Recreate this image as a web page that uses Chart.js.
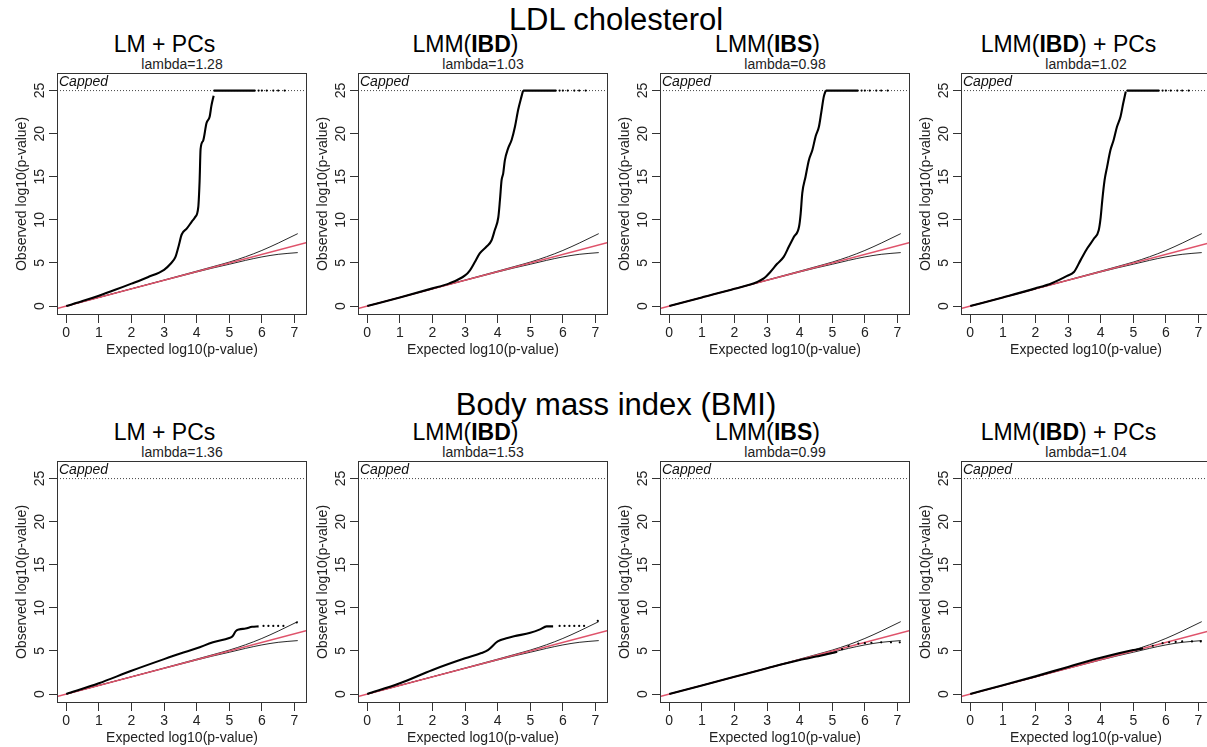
<!DOCTYPE html>
<html><head><meta charset="utf-8">
<script src="https://cdn.jsdelivr.net/npm/chart.js@4.4.1/dist/chart.umd.min.js"></script>
<style>
html,body{margin:0;padding:0;background:#fff;}
#wrap{position:relative;width:1207px;height:747px;overflow:hidden;background:#fff;font-family:'Liberation Sans',Arial,Helvetica,sans-serif;color:#000;}
.t{position:absolute;white-space:nowrap;text-align:center;line-height:1;}
canvas{position:absolute;}
</style></head><body><div id="wrap"></div>
<script>
// ---------- axes / ticks ----------
const X_MIN = -0.284, X_MAX = 7.384;
const Y_MIN = -1.04, Y_MAX = 27.04;
const CAP = 25;
const xTicks = [0, 1, 2, 3, 4, 5, 6, 7];
const yTicks = [0, 5, 10, 15, 20, 25];

// ---------- labels ----------
const groupTitles = ['LDL cholesterol', 'Body mass index (BMI)'];
const methodTitles = [['LM + PCs'], ['LMM(', 'IBD', ')'], ['LMM(', 'IBS', ')'], ['LMM(', 'IBD', ') + PCs']];
const ldlLambdas = ['1.28', '1.03', '0.98', '1.02'];
const bmiLambdas = ['1.36', '1.53', '0.99', '1.04'];

// ---------- confidence band (shared) ----------
const ciX      = [0, 1, 2, 3, 4, 4.5, 5, 5.5, 6, 6.5, 7.1];
const ciUpperY = [0, 1.0, 2.0, 3.02, 4.05, 4.57, 5.1, 5.72, 6.45, 7.3, 8.4];
const ciLowerY = [0, 1.0, 2.0, 2.98, 3.95, 4.42, 4.85, 5.3, 5.7, 6.0, 6.2];

// ---------- LDL cholesterol ----------
const ldlLmPcsX = [0, 0.5, 1, 1.5, 2, 2.5, 3, 3.2, 3.35, 3.45, 3.54, 3.7, 3.85, 3.95, 4.05, 4.09, 4.12, 4.2, 4.3, 4.4, 4.45, 4.52];
const ldlLmPcsY = [0, 0.58, 1.2, 1.88, 2.6, 3.35, 4.2, 4.9, 5.7, 7.0, 8.3, 9.0, 9.8, 10.3, 11.5, 14.5, 18.2, 19.2, 21.2, 22.0, 23.2, 24.4];
const ldlIbdX = [0, 1, 2, 2.5, 3, 3.15, 3.3, 3.45, 3.66, 3.81, 3.91, 4.02, 4.07, 4.12, 4.17, 4.22, 4.32, 4.43, 4.53, 4.63, 4.73, 4.78];
const ldlIbdY = [0, 1.0, 2.05, 2.6, 3.55, 4.15, 5.1, 6.1, 6.9, 7.6, 8.8, 10.3, 12.3, 14.6, 15.4, 16.9, 18.3, 19.3, 20.8, 22.8, 24.3, 25];
const ldlIbsX = [0, 1, 2, 2.7, 2.9, 3.1, 3.31, 3.51, 3.67, 3.82, 3.98, 4.03, 4.08, 4.18, 4.28, 4.39, 4.49, 4.59, 4.66, 4.74, 4.8];
const ldlIbsY = [0, 1.0, 2.0, 2.8, 3.2, 3.95, 4.9, 5.7, 6.9, 8.0, 9.2, 10.7, 13.1, 15.0, 16.9, 18.1, 19.7, 20.8, 22.4, 24.3, 25];
const ldlIbdPcsX = [0, 1, 2, 2.5, 2.97, 3.18, 3.38, 3.59, 3.79, 3.94, 4.0, 4.05, 4.12, 4.2, 4.3, 4.4, 4.5, 4.61, 4.69, 4.77];
const ldlIbdPcsY = [0, 1.0, 2.05, 2.65, 3.5, 3.95, 5.3, 6.7, 7.8, 8.8, 10.3, 12.3, 14.6, 16.2, 18.1, 19.3, 20.8, 22.0, 23.5, 24.9];
// capped points (-log10 p >= 25 drawn at 25)
const ldlCapStartX = [4.52, 4.78, 4.8, 4.8];
const ldlCapSolidEndX = 5.8;
const ldlCapTailX = [5.9, 6.0, 6.15, 6.35, 6.5, 6.7];

// ---------- BMI ----------
const bmiLmPcsX = [0, 1, 2, 3, 3.5, 4, 4.5, 5, 5.1, 5.2, 5.3, 5.5, 5.7, 5.9];
const bmiLmPcsY = [0, 1.25, 2.7, 4.05, 4.7, 5.3, 6.0, 6.5, 6.7, 7.3, 7.5, 7.6, 7.8, 7.85];
const bmiLmPcsTailX = [6.05, 6.2, 6.35, 6.5, 6.66, 7.07];
const bmiLmPcsTailY = [7.9, 7.9, 7.9, 7.9, 7.9, 8.3];
const bmiIbdX = [0, 1, 2, 3, 3.5, 3.7, 4, 4.3, 4.5, 5, 5.3, 5.5, 5.7];
const bmiIbdY = [0, 1.25, 2.8, 4.15, 4.75, 5.1, 6.1, 6.5, 6.7, 7.1, 7.5, 7.85, 7.85];
const bmiIbdTailX = [5.9, 6.05, 6.2, 6.35, 6.5, 6.65, 7.07];
const bmiIbdTailY = [7.9, 7.9, 7.9, 7.9, 7.9, 7.9, 8.5];
const bmiIbsX = [0, 1, 2, 3, 4, 4.5, 5, 5.15];
const bmiIbsY = [0, 1.0, 2.0, 3.0, 3.95, 4.35, 4.75, 4.9];
const bmiIbsTailX = [5.3, 5.5, 5.8, 6.0, 6.2, 6.5, 6.8, 7.07];
const bmiIbsTailY = [5.2, 5.55, 5.85, 5.9, 5.95, 6.0, 6.0, 6.0];
const bmiIbdPcsX = [0, 1, 2, 3, 4, 5, 5.3];
const bmiIbdPcsY = [0, 1.02, 2.05, 3.15, 4.2, 5.1, 5.3];
const bmiIbdPcsTailX = [5.6, 5.9, 6.1, 6.3, 6.5, 6.8, 7.07];
const bmiIbdPcsTailY = [5.6, 5.9, 6.0, 6.05, 6.1, 6.1, 6.1];

// ---------- layout ----------
const boxLefts = [57, 358, 660, 961];
const boxTops = [73, 461];
const BOX_W = 250, BOX_H = 242;
const PAD_TOP = 10, PAD_RIGHT = 8, Y_AXIS_W = 57, X_AXIS_H = 46;
const bigTitleBaselines = [30, 415];
const BIG_CX = 616;

Chart.defaults.font.family = "'Liberation Sans', Arial, Helvetica, sans-serif";
Chart.defaults.color = '#222';

const wrap = document.getElementById('wrap');
function addText(parts, cx, baseline, size, extra) {
  const d = document.createElement('div');
  d.className = 't';
  d.style.fontSize = size + 'px';
  d.style.left = (cx - 400) + 'px';
  d.style.width = '800px';
  d.style.top = (baseline - 0.8465 * size) + 'px';
  if (extra) Object.assign(d.style, extra);
  parts.forEach((p, i) => {
    if (parts.length > 1 && i === 1) { const b = document.createElement('b'); b.textContent = p; d.appendChild(b); }
    else d.appendChild(document.createTextNode(p));
  });
  wrap.appendChild(d);
}

function pts(xs, ys) { return xs.map((x, i) => ({ x: x, y: ys[i] })); }

const boxPlugin = {
  id: 'rbox',
  afterDatasetsDraw(chart) {
    const { ctx, chartArea: a } = chart;
    ctx.save();
    ctx.strokeStyle = '#333';
    ctx.lineWidth = 1;
    ctx.strokeRect(Math.round(a.left) + 0.5, Math.round(a.top) + 0.5, Math.round(a.right - a.left) - 1, Math.round(a.bottom - a.top) - 1);
    ctx.fillStyle = '#111';
    ctx.font = "italic 14px 'Liberation Sans', Arial, sans-serif";
    ctx.textBaseline = 'alphabetic';
    ctx.textAlign = 'left';
    ctx.fillText('Capped', a.left + 2, a.top + 13);
    ctx.restore();
  }
};

function makePanel(row, col, obs, capData, tail) {
  const c = document.createElement('canvas');
  const W = Y_AXIS_W + BOX_W + PAD_RIGHT, H = PAD_TOP + BOX_H + X_AXIS_H;
  c.width = W; c.height = H;
  c.style.left = (boxLefts[col] - Y_AXIS_W) + 'px';
  c.style.top = (boxTops[row] - PAD_TOP) + 'px';
  c.style.width = W + 'px'; c.style.height = H + 'px';
  wrap.appendChild(c);
  const datasets = [
    { label: 'observed', data: obs, borderColor: '#000', borderWidth: 2.1, pointRadius: 0, showLine: true, cubicInterpolationMode: 'monotone', order: 0 },
  ];
  if (capData) datasets.push({ label: 'capped', data: capData, borderColor: '#000', borderWidth: 2.1, pointRadius: 0, showLine: true, order: 0 });
  if (tail) datasets.push({ label: 'tail', data: tail, showLine: false, pointRadius: 1.1, pointBackgroundColor: '#000', pointBorderWidth: 0, order: 0 });
  datasets.push(
    { label: 'expected', data: pts([X_MIN, X_MAX], [X_MIN, X_MAX]), borderColor: '#DF536B', borderWidth: 1.6, pointRadius: 0, showLine: true, order: 1 },
    { label: 'ciUpper', data: pts(ciX, ciUpperY), borderColor: '#111', borderWidth: 0.9, pointRadius: 0, showLine: true, cubicInterpolationMode: 'monotone', order: 2 },
    { label: 'ciLower', data: pts(ciX, ciLowerY), borderColor: '#111', borderWidth: 0.9, pointRadius: 0, showLine: true, cubicInterpolationMode: 'monotone', order: 2 },
    { label: 'capLine', data: pts([X_MIN, X_MAX], [CAP, CAP]), borderColor: '#444', borderWidth: 1, borderDash: [1, 2], pointRadius: 0, showLine: true, order: 3 }
  );
  new Chart(c, {
    type: 'scatter',
    data: { datasets },
    options: {
      responsive: false, animation: false, devicePixelRatio: 1, events: [],
      layout: { padding: { left: 0, right: PAD_RIGHT, top: PAD_TOP, bottom: 0 } },
      plugins: { legend: { display: false }, tooltip: { enabled: false } },
      scales: {
        x: {
          type: 'linear', position: 'bottom', min: X_MIN, max: X_MAX,
          afterBuildTicks: s => { s.ticks = xTicks.map(v => ({ value: v })); },
          afterFit: s => { s.height = X_AXIS_H; },
          grid: { display: true, drawOnChartArea: false, drawTicks: true, tickLength: 8, color: '#333', lineWidth: 1 },
          border: { display: false },
          ticks: { font: { size: 14 }, color: '#222', padding: 2, maxRotation: 0, autoSkip: false, callback: v => String(v) },
          title: { display: true, text: 'Expected log10(p-value)', font: { size: 14 }, color: '#222', padding: { top: 0, bottom: 2 } }
        },
        y: {
          type: 'linear', position: 'left', min: Y_MIN, max: Y_MAX,
          afterBuildTicks: s => { s.ticks = yTicks.map(v => ({ value: v })); },
          afterFit: s => { s.width = Y_AXIS_W; },
          grid: { display: true, drawOnChartArea: false, drawTicks: true, tickLength: 8, color: '#333', lineWidth: 1 },
          border: { display: false },
          ticks: { font: { size: 14 }, color: '#222', padding: 1, minRotation: 90, maxRotation: 90, crossAlign: 'center', autoSkip: false, callback: v => String(v) },
          title: { display: true, text: 'Observed log10(p-value)', font: { size: 14 }, color: '#222', padding: { top: 14, bottom: 0 } }
        }
      }
    },
    plugins: [boxPlugin]
  });
}

// titles
addText([groupTitles[0]], BIG_CX, bigTitleBaselines[0], 31);
addText([groupTitles[1]], BIG_CX, bigTitleBaselines[1], 31);
for (let col = 0; col < 4; col++) {
  const cx = boxLefts[col] + BOX_W / 2;
  addText(methodTitles[col], cx - 17.5, boxTops[0] - 20.3, 23);
  addText(['lambda=' + ldlLambdas[col]], cx, boxTops[0] - 3.7, 14, { color: '#222' });
  addText(methodTitles[col], cx - 17.5, boxTops[1] - 20.3, 23);
  addText(['lambda=' + bmiLambdas[col]], cx, boxTops[1] - 3.7, 14, { color: '#222' });
}

// LDL row
const ldlObs = [[ldlLmPcsX, ldlLmPcsY], [ldlIbdX, ldlIbdY], [ldlIbsX, ldlIbsY], [ldlIbdPcsX, ldlIbdPcsY]];
ldlObs.forEach((o, col) => {
  makePanel(0, col, pts(o[0], o[1]),
    pts([ldlCapStartX[col], ldlCapSolidEndX], [CAP, CAP]),
    pts(ldlCapTailX, ldlCapTailX.map(() => CAP)));
});
// BMI row
const bmiObs = [[bmiLmPcsX, bmiLmPcsY, bmiLmPcsTailX, bmiLmPcsTailY], [bmiIbdX, bmiIbdY, bmiIbdTailX, bmiIbdTailY],
                [bmiIbsX, bmiIbsY, bmiIbsTailX, bmiIbsTailY], [bmiIbdPcsX, bmiIbdPcsY, bmiIbdPcsTailX, bmiIbdPcsTailY]];
bmiObs.forEach((o, col) => {
  makePanel(1, col, pts(o[0], o[1]), null, pts(o[2], o[3]));
});
</script></body></html>
